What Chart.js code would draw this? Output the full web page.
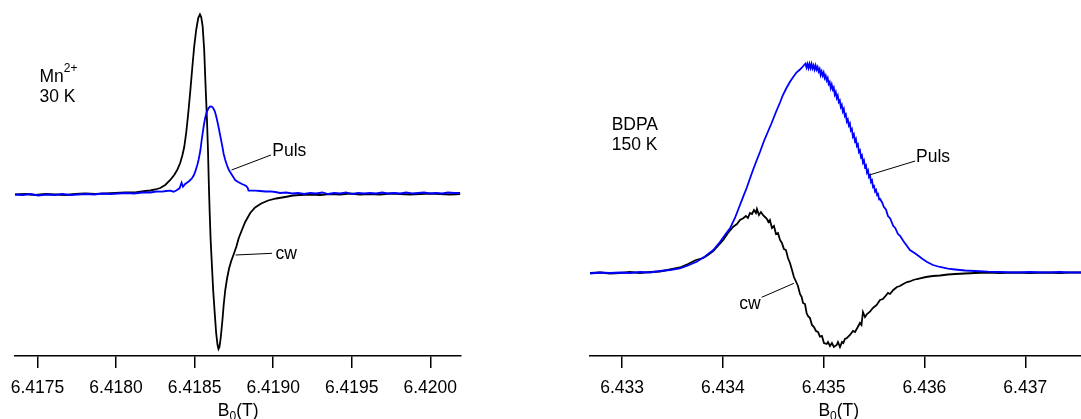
<!DOCTYPE html>
<html>
<head>
<meta charset="utf-8">
<script src="https://cdn.jsdelivr.net/npm/chart.js@4/dist/chart.umd.min.js"></script>
<style>
  html, body { margin: 0; padding: 0; background: #fff; }
  #wrap { display: flex; width: 1081px; height: 419px; }
  canvas { display: block; }
</style>
</head>
<body>
<div id="wrap">
  <canvas id="mnChart" width="540" height="419"></canvas>
  <canvas id="bdpaChart" width="541" height="419"></canvas>
</div>
<script>
// ---- Mn2+ 30 K : field (T) and signal (a.u.) ----
const mnCwField = [
  6.417356, 6.417422, 6.417486, 6.417550, 6.417613, 6.417677, 6.417740, 6.417804, 6.417868, 6.417931,
  6.417995, 6.418059, 6.418122, 6.418154, 6.418186, 6.418218, 6.418249, 6.418281, 6.418313, 6.418345,
  6.418370, 6.418389, 6.418408, 6.418421, 6.418434, 6.418447, 6.418459, 6.418472, 6.418485, 6.418497,
  6.418510, 6.418523, 6.418534, 6.418542, 6.418551, 6.418561, 6.418569, 6.418578, 6.418585, 6.418591,
  6.418596, 6.418602, 6.418610, 6.418618, 6.418628, 6.418637, 6.418646, 6.418652, 6.418658, 6.418666,
  6.418676, 6.418685, 6.418695, 6.418707, 6.418720, 6.418733, 6.418747, 6.418765, 6.418781, 6.418801,
  6.418822, 6.418854, 6.418885, 6.418924, 6.418968, 6.419019, 6.419076, 6.419127, 6.419172, 6.419235,
  6.419299, 6.419362, 6.419426, 6.419490, 6.419553, 6.419617, 6.419681, 6.419744, 6.419808, 6.419871,
  6.419935, 6.419999, 6.420062, 6.420126, 6.420191
];
const mnCwSignal = [
  -0.005, 0.000, -0.010, 0.000, -0.005, -0.010, 0.000, 0.005, 0.000, 0.005,
  0.010, 0.015, 0.015, 0.023, 0.030, 0.035, 0.045, 0.060, 0.090, 0.140,
  0.190, 0.240, 0.310, 0.380, 0.470, 0.620, 0.800, 1.020, 1.260, 1.470,
  1.640, 1.760, 1.797, 1.770, 1.680, 1.440, 1.110, 0.770, 0.440, 0.070,
  -0.190, -0.460, -0.710, -0.960, -1.190, -1.390, -1.510, -1.550, -1.530, -1.440,
  -1.280, -1.110, -0.960, -0.840, -0.740, -0.670, -0.610, -0.530, -0.440, -0.360,
  -0.280, -0.190, -0.135, -0.095, -0.065, -0.045, -0.030, -0.015, -0.010, -0.005,
  -0.010, 0.000, -0.005, 0.005, -0.005, 0.000, -0.005, 0.005, 0.000, -0.005,
  0.000, 0.005, 0.000, -0.005, 0.000
];
const mnPulsField = [
  6.417356, 6.417403, 6.417454, 6.417505, 6.417556, 6.417607, 6.417658, 6.417709, 6.417760, 6.417810,
  6.417861, 6.417912, 6.417963, 6.418014, 6.418065, 6.418116, 6.418167, 6.418218, 6.418256, 6.418294,
  6.418319, 6.418345, 6.418366, 6.418383, 6.418404, 6.418417, 6.418426, 6.418440, 6.418451, 6.418466,
  6.418483, 6.418494, 6.418504, 6.418517, 6.418525, 6.418536, 6.418545, 6.418557, 6.418567, 6.418577,
  6.418588, 6.418599, 6.418609, 6.418618, 6.418628, 6.418637, 6.418647, 6.418656, 6.418666, 6.418676,
  6.418685, 6.418695, 6.418709, 6.418720, 6.418731, 6.418746, 6.418758, 6.418777, 6.418801, 6.418816,
  6.418828, 6.418838, 6.418843, 6.418854, 6.418885, 6.418917, 6.418949, 6.418981, 6.419013, 6.419044,
  6.419083, 6.419121, 6.419159, 6.419197, 6.419235, 6.419274, 6.419312, 6.419350, 6.419388, 6.419426,
  6.419464, 6.419502, 6.419541, 6.419579, 6.419617, 6.419655, 6.419693, 6.419731, 6.419770, 6.419808,
  6.419846, 6.419884, 6.419922, 6.419960, 6.419999, 6.420037, 6.420075, 6.420113, 6.420151, 6.420191
];
const mnPulsSignal = [
  -0.005, -0.010, 0.000, -0.015, -0.005, -0.010, 0.000, -0.010, -0.005, 0.000,
  -0.005, 0.005, 0.000, 0.005, 0.010, 0.005, 0.015, 0.015, 0.025, 0.023,
  0.030, 0.033, 0.023, 0.035, 0.057, 0.113, 0.073, 0.100, 0.113, 0.130,
  0.157, 0.185, 0.223, 0.290, 0.340, 0.430, 0.540, 0.670, 0.760, 0.820,
  0.857, 0.875, 0.873, 0.860, 0.830, 0.780, 0.710, 0.640, 0.560, 0.480,
  0.400, 0.340, 0.273, 0.235, 0.207, 0.170, 0.140, 0.120, 0.100, 0.090,
  0.080, 0.060, 0.033, 0.033, 0.033, 0.030, 0.025, 0.027, 0.020, 0.010,
  0.015, 0.005, 0.010, 0.000, 0.010, 0.005, 0.015, 0.000, 0.010, 0.005,
  0.015, 0.000, 0.010, 0.005, 0.010, 0.005, 0.015, 0.005, 0.010, 0.005,
  0.015, 0.005, 0.010, 0.015, 0.005, 0.010, 0.005, 0.015, 0.010, 0.010
];
const mnTicks = [6.4175, 6.4180, 6.4185, 6.4190, 6.4195, 6.4200];
const mnTickLabels = ['6.4175', '6.4180', '6.4185', '6.4190', '6.4195', '6.4200'];

// ---- BDPA 150 K : field (T) and signal (a.u.) ----
const bdpaCwField = [
  6.432682, 6.432781, 6.432880, 6.432979, 6.433078, 6.433178, 6.433277, 6.433376, 6.433475, 6.433574,
  6.433654, 6.433733, 6.433806, 6.433852, 6.433905, 6.433951, 6.434004, 6.434051, 6.434103, 6.434140,
  6.434170, 6.434202, 6.434229, 6.434249, 6.434269, 6.434289, 6.434309, 6.434328, 6.434338, 6.434358,
  6.434378, 6.434401, 6.434418, 6.434438, 6.434452, 6.434467, 6.434487, 6.434507, 6.434527, 6.434547,
  6.434567, 6.434586, 6.434606, 6.434626, 6.434646, 6.434666, 6.434686, 6.434705, 6.434732, 6.434745,
  6.434765, 6.434782, 6.434795, 6.434815, 6.434831, 6.434844, 6.434864, 6.434884, 6.434904, 6.434924,
  6.434944, 6.434963, 6.434983, 6.435003, 6.435030, 6.435043, 6.435063, 6.435082, 6.435102, 6.435129,
  6.435142, 6.435162, 6.435182, 6.435195, 6.435211, 6.435231, 6.435261, 6.435291, 6.435311, 6.435340,
  6.435360, 6.435375, 6.435390, 6.435410, 6.435430, 6.435459, 6.435489, 6.435526, 6.435559, 6.435588,
  6.435608, 6.435638, 6.435658, 6.435691, 6.435727, 6.435757, 6.435790, 6.435827, 6.435856, 6.435889,
  6.435926, 6.435956, 6.436015, 6.436084, 6.436154, 6.436233, 6.436303, 6.436402, 6.436501, 6.436630,
  6.436749, 6.436898, 6.437047, 6.437196, 6.437344, 6.437444, 6.437553
];
const bdpaCwSignal = [
  -0.005, 0.000, -0.010, -0.005, 0.005, -0.005, 0.005, 0.010, 0.030, 0.050,
  0.085, 0.125, 0.145, 0.175, 0.215, 0.265, 0.325, 0.395, 0.458, 0.485,
  0.525, 0.542, 0.565, 0.545, 0.595, 0.585, 0.625, 0.595, 0.635, 0.575,
  0.605, 0.570, 0.555, 0.535, 0.505, 0.525, 0.445, 0.465, 0.385, 0.395,
  0.325, 0.295, 0.235, 0.225, 0.145, 0.095, 0.025, -0.045, -0.105, -0.135,
  -0.215, -0.245, -0.305, -0.315, -0.405, -0.435, -0.455, -0.525, -0.545, -0.585,
  -0.595, -0.642, -0.635, -0.705, -0.715, -0.695, -0.735, -0.705, -0.745, -0.725,
  -0.695, -0.745, -0.695, -0.705, -0.665, -0.655, -0.625, -0.585, -0.595, -0.542,
  -0.505, -0.525, -0.395, -0.445, -0.415, -0.392, -0.355, -0.325, -0.275, -0.265,
  -0.242, -0.205, -0.215, -0.175, -0.145, -0.135, -0.115, -0.095, -0.090, -0.075,
  -0.065, -0.058, -0.045, -0.035, -0.030, -0.020, -0.015, -0.010, -0.005, 0.000,
  -0.005, 0.000, -0.005, 0.000, -0.005, 0.000, 0.000
];
const bdpaPulsField = [
  6.432682, 6.432781, 6.432880, 6.432979, 6.433078, 6.433178, 6.433277, 6.433376, 6.433475, 6.433574,
  6.433654, 6.433740, 6.433822, 6.433905, 6.433971, 6.434031, 6.434071, 6.434120, 6.434170, 6.434202,
  6.434236, 6.434269, 6.434299, 6.434333, 6.434368, 6.434408, 6.434448, 6.434484, 6.434527, 6.434567,
  6.434596, 6.434631, 6.434666, 6.434698, 6.434730, 6.434765, 6.434798,
  6.434820, 6.434830, 6.434840, 6.434850, 6.434860, 6.434870, 6.434880, 6.434890, 6.434900, 6.434910,
  6.434920, 6.434930, 6.434940, 6.434950, 6.434960, 6.434970, 6.434980, 6.434990, 6.435000, 6.435010,
  6.435020, 6.435030, 6.435040, 6.435050, 6.435060, 6.435070, 6.435080, 6.435090, 6.435100, 6.435110,
  6.435120, 6.435130, 6.435140, 6.435150, 6.435160, 6.435170, 6.435180, 6.435190, 6.435200, 6.435210,
  6.435220, 6.435230, 6.435240, 6.435250, 6.435260, 6.435270, 6.435280, 6.435290, 6.435300, 6.435310,
  6.435320, 6.435330, 6.435340, 6.435350, 6.435360, 6.435370, 6.435380, 6.435390, 6.435400, 6.435410,
  6.435420, 6.435430, 6.435440, 6.435450, 6.435460, 6.435470, 6.435480, 6.435490, 6.435500, 6.435510,
  6.435520, 6.435530, 6.435540, 6.435550, 6.435560,
  6.435580, 6.435598, 6.435618, 6.435638, 6.435660, 6.435691, 6.435710, 6.435737, 6.435760, 6.435787,
  6.435856, 6.435916, 6.435975, 6.436022, 6.436084, 6.436154, 6.436233, 6.436303, 6.436402, 6.436501,
  6.436630, 6.436749, 6.436898, 6.437047, 6.437196, 6.437344, 6.437444, 6.437553
];
const bdpaPulsSignal = [
  -0.010, 0.000, -0.005, 0.000, -0.005, 0.005, 0.000, 0.015, 0.025, 0.042,
  0.070, 0.108, 0.160, 0.225, 0.305, 0.390, 0.442, 0.545, 0.675, 0.758,
  0.845, 0.940, 1.025, 1.115, 1.205, 1.315, 1.410, 1.495, 1.605, 1.700,
  1.775, 1.845, 1.908, 1.955, 2.000, 2.030, 2.065,
  2.090, 2.050, 2.085, 2.045, 2.085, 2.045, 2.085, 2.040, 2.070, 2.030,
  2.070, 2.030, 2.055, 2.010, 2.035, 1.975, 2.010, 1.970, 2.000, 1.945,
  1.970, 1.920, 1.945, 1.885, 1.905, 1.845, 1.880, 1.830, 1.850, 1.780,
  1.805, 1.745, 1.770, 1.705, 1.720, 1.655, 1.675, 1.610, 1.635, 1.565,
  1.580, 1.510, 1.530, 1.470, 1.490, 1.420, 1.435, 1.360, 1.380, 1.315,
  1.335, 1.265, 1.280, 1.205, 1.220, 1.155, 1.170, 1.100, 1.120, 1.055,
  1.070, 1.000, 1.020, 0.955, 0.970, 0.905, 0.920, 0.855, 0.865, 0.810,
  0.825, 0.775, 0.785, 0.730, 0.735,
  0.700, 0.655, 0.630, 0.565, 0.540, 0.465, 0.445, 0.385, 0.365, 0.320,
  0.225, 0.185, 0.140, 0.108, 0.075, 0.055, 0.038, 0.030, 0.020, 0.015,
  0.008, 0.005, 0.000, 0.005, 0.000, 0.005, 0.000, 0.000
];
const bdpaTicks = [6.433, 6.434, 6.435, 6.436, 6.437];
const bdpaTickLabels = ['6.433', '6.434', '6.435', '6.436', '6.437'];

const FONT = '"Liberation Sans", Arial, Helvetica, sans-serif';
const CW_COLOR = '#000000';
const PULS_COLOR = '#0000ff';

// text runs: {t, sub, sup}
function drawRuns(ctx, x, y, runs, align) {
  const big = '17.5px ' + FONT, small = '12px ' + FONT;
  let w = 0;
  runs.forEach(r => { ctx.font = (r.sub || r.sup) ? small : big; w += ctx.measureText(r.t).width; });
  let cx = align === 'center' ? x - w / 2 : x;
  ctx.textAlign = 'left';
  ctx.textBaseline = 'alphabetic';
  ctx.fillStyle = '#000';
  runs.forEach(r => {
    ctx.font = (r.sub || r.sup) ? small : big;
    const dy = r.sub ? 4 : (r.sup ? -10 : 0);
    ctx.fillText(r.t, cx, y + dy);
    cx += ctx.measureText(r.t).width;
  });
}

function notesPlugin(cfg) {
  return {
    id: 'notes',
    afterDraw(chart) {
      const { ctx, scales: { x, y } } = chart;
      ctx.save();
      ctx.strokeStyle = '#000';
      ctx.lineWidth = 1;
      cfg.leaders.forEach(l => {
        ctx.beginPath();
        ctx.moveTo(x.getPixelForValue(l[0]), y.getPixelForValue(l[1]));
        ctx.lineTo(x.getPixelForValue(l[2]), y.getPixelForValue(l[3]));
        ctx.stroke();
      });
      cfg.notes.forEach(n => {
        drawRuns(ctx, x.getPixelForValue(n.x), y.getPixelForValue(n.y), n.runs, 'left');
      });
      drawRuns(ctx, x.getPixelForValue(cfg.titleX), chart.height - 3,
        [{ t: 'B' }, { t: '0', sub: true }, { t: '(T)' }], 'center');
      ctx.restore();
    }
  };
}

function makeChart(id, cfg) {
  return new Chart(document.getElementById(id), {
    type: 'line',
    data: {
      datasets: cfg.series.map(s => ({
        data: s.field.map((b, i) => ({ x: b, y: s.signal[i] })),
        borderColor: s.color,
        borderWidth: 1.8,
        pointRadius: 0,
        tension: 0,
        fill: false
      }))
    },
    options: {
      responsive: false,
      animation: false,
      events: [],
      devicePixelRatio: 1,
      layout: { padding: cfg.padding },
      plugins: { legend: { display: false }, tooltip: { enabled: false } },
      scales: {
        x: {
          type: 'linear',
          min: cfg.xRange[0],
          max: cfg.xRange[1],
          afterBuildTicks: s => { s.ticks = cfg.ticks.map(v => ({ value: v })); },
          afterFit: s => { s.height = 63; },
          grid: { drawOnChartArea: false, drawTicks: true, tickLength: 12, color: '#000', lineWidth: 1.5 },
          border: { display: true, color: '#000', width: 1.5 },
          ticks: {
            autoSkip: false, maxRotation: 0, padding: 10, color: '#000',
            font: { family: FONT, size: 17.5 },
            callback: (v, i) => cfg.tickLabels[i]
          }
        },
        y: { type: 'linear', display: false, min: cfg.yRange[0], max: cfg.yRange[1] }
      }
    },
    plugins: [notesPlugin(cfg)]
  });
}

makeChart('mnChart', {
  series: [
    { field: mnPulsField, signal: mnPulsSignal, color: PULS_COLOR },
    { field: mnCwField, signal: mnCwSignal, color: CW_COLOR }
  ],
  xRange: [6.417356, 6.420191],
  yRange: [-1.62, 1.94],
  ticks: mnTicks,
  tickLabels: mnTickLabels,
  padding: { left: 14.5, right: 79.7, top: 0, bottom: 0 },
  titleX: 6.418777,
  notes: [
    { x: 6.417513, y: 1.123, runs: [{ t: 'Mn' }, { t: '2+', sup: true }] },
    { x: 6.417513, y: 0.923, runs: [{ t: '30 K' }] },
    { x: 6.418994, y: 0.38, runs: [{ t: 'Puls' }] },
    { x: 6.419015, y: -0.653, runs: [{ t: 'cw' }] }
  ],
  leaders: [
    [6.418735, 0.24, 6.418986, 0.39],
    [6.418761, -0.61, 6.418993, -0.593]
  ]
});

makeChart('bdpaChart', {
  series: [
    { field: bdpaPulsField, signal: bdpaPulsSignal, color: PULS_COLOR },
    { field: bdpaCwField, signal: bdpaCwSignal, color: CW_COLOR }
  ],
  xRange: [6.432682, 6.437553],
  yRange: [-0.835, 2.725],
  ticks: bdpaTicks,
  tickLabels: bdpaTickLabels,
  padding: { left: 50, right: 0, top: 0, bottom: 0 },
  titleX: 6.43515,
  notes: [
    { x: 6.432897, y: 1.425, runs: [{ t: 'BDPA' }] },
    { x: 6.432897, y: 1.225, runs: [{ t: '150 K' }] },
    { x: 6.435916, y: 1.108, runs: [{ t: 'Puls' }] },
    { x: 6.434163, y: -0.368, runs: [{ t: 'cw' }] }
  ],
  leaders: [
    [6.435453, 0.975, 6.435908, 1.115],
    [6.434385, -0.248, 6.434705, -0.108]
  ]
});
</script>
</body>
</html>
